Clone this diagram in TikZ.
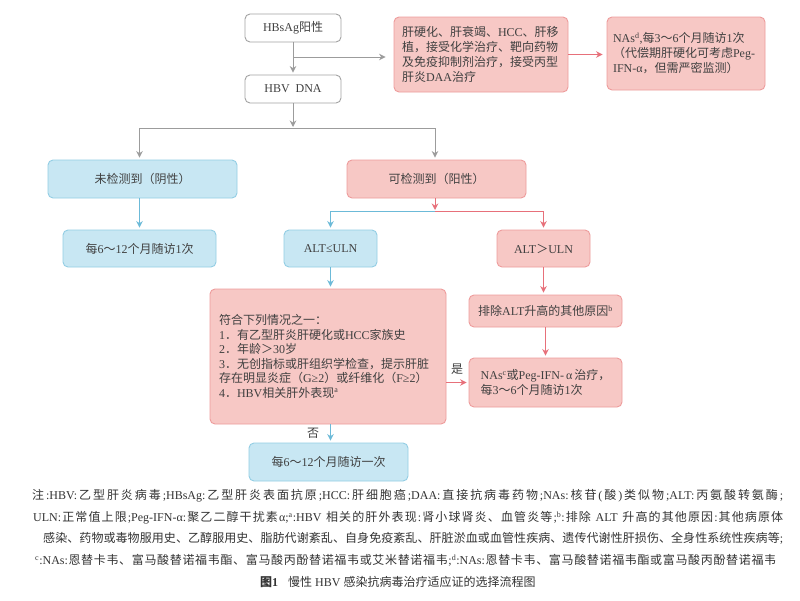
\documentclass[tikz,border=0pt]{standalone}
\usepackage{fontspec}
\setmainfont{Liberation Serif}
\newfontfamily\cjkf{Noto Sans CJK SC}
\newfontfamily\latf{Liberation Serif}
\usetikzlibrary{arrows.meta}
\XeTeXinterchartokenstate=1
\newXeTeXintercharclass\mycjk
\newcount\clsc
\def\setcls#1#2{\clsc=#1\relax\loop\XeTeXcharclass\clsc=\mycjk\relax\ifnum\clsc<#2\relax\advance\clsc by 1\relax\repeat}
\setcls{"3000}{"303F}
\setcls{"4E00}{"9FFF}
\setcls{"FF00}{"FFEF}
\let\cjkglue\relax
\XeTeXinterchartoks 0 \mycjk = {\cjkglue\cjkf}
\XeTeXinterchartoks 4095 \mycjk = {\cjkf}
\XeTeXinterchartoks \mycjk 0 = {\latf\cjkglue}
\XeTeXinterchartoks \mycjk 4095 = {\latf}
\XeTeXinterchartoks \mycjk \mycjk = {\cjkglue}
\def\zhbreak{\def\cjkglue{\hskip 0pt plus 1pt\relax}}
\definecolor{txt}{HTML}{404040}
\definecolor{notec}{HTML}{333333}
\definecolor{gline}{HTML}{A3A3A3}
\definecolor{garrc}{HTML}{9C9C9C}
\definecolor{bfill}{HTML}{C8E7F3}
\definecolor{bline}{HTML}{93CEE4}
\definecolor{barrc}{HTML}{6CBAD8}
\definecolor{rfill}{HTML}{F7C8C5}
\definecolor{rline}{HTML}{EE9C9C}
\definecolor{rarrc}{HTML}{E7707A}
\begin{document}
\begin{tikzpicture}[x=1pt,y=-1pt,
 box/.style={rounded corners=5pt,line width=0.9pt,inner sep=0pt,text=txt,font=\fontsize{12}{15}\selectfont},
 gbox/.style={box,draw=gline,fill=white},
 bbox/.style={box,draw=bline,fill=bfill},
 rbox/.style={box,draw=rline,fill=rfill},
 arr/.style={line width=1pt,-{Stealth[length=6.5pt,width=6.5pt]},shorten >=2pt},
 garr/.style={arr,draw=garrc},
 barr/.style={arr,draw=barrc},
 rarr/.style={arr,draw=rarrc},
 note/.style={anchor=base west,inner sep=0pt,text=notec,font=\fontsize{12}{14}\selectfont},
 lbl/.style={text=txt,font=\fontsize{12}{14}\selectfont,inner sep=0pt}]
\useasboundingbox[fill=white] (0,0) rectangle (800,600);

\node[gbox,minimum width=96pt,minimum height=28pt] (hbs) at (293,28) {HBsAg阳性};
\node[gbox,minimum width=96pt,minimum height=28pt] (dna) at (293,89) {HBV\hspace{6pt}DNA};
\node[rbox,minimum width=174pt,minimum height=75pt,text width=158pt,align=left,inner xsep=8pt] (r1) at (481,54.5) {肝硬化、肝衰竭、HCC、肝移\\植，接受化学治疗、靶向药物\\及免疫抑制剂治疗，接受丙型\\肝炎DAA治疗};
\node[rbox,minimum width=158pt,minimum height=73pt,text width=146pt,align=left,inner xsep=6pt] (r2) at (686,53.5) {NAs\textsuperscript{d},每3～6个月随访1次\\（代偿期肝硬化可考虑Peg-\\IFN-α，但需严密监测）};
\node[bbox,minimum width=189pt,minimum height=38pt] (neg) at (142.5,179) {未检测到（阴性）};
\node[rbox,minimum width=179pt,minimum height=38pt] (pos) at (436.5,179) {可检测到（阳性）};
\node[bbox,minimum width=153pt,minimum height=37pt] (f1) at (139.5,248.5) {每6～12个月随访1次};
\node[bbox,minimum width=93pt,minimum height=37pt] (altle) at (330.5,248.5) {ALT≤ULN};
\node[rbox,minimum width=93pt,minimum height=37pt] (altgt) at (543.5,248.5) {ALT＞ULN};
\node[rbox,minimum width=236pt,minimum height=135pt,text width=218pt,align=left,inner xsep=9pt,font=\fontsize{12}{14.5}\selectfont] (big) at (328,356.5) {符合下列情况之一：\\1．有乙型肝炎肝硬化或HCC家族史\\2．年龄＞30岁\\3．无创指标或肝组织学检查，提示肝脏\\存在明显炎症（G≥2）或纤维化（F≥2）\\4．HBV相关肝外表现\textsuperscript{a}};
\node[bbox,minimum width=159pt,minimum height=38pt] (f2) at (328.5,462) {每6～12个月随访一次};
\node[rbox,minimum width=153pt,minimum height=32pt] (excl) at (545.5,311) {排除ALT升高的其他原因\textsuperscript{b}};
\node[rbox,minimum width=153pt,minimum height=49pt,align=left] (nas) at (545.5,382.5) {NAs\textsuperscript{c}或Peg-IFN-\,α\,治疗，\\每3～6个月随访1次};

\coordinate (b1) at (293,57);
\coordinate (j1) at (293,128);
\coordinate (j2) at (435,211);

\draw[garr] (hbs) -- (dna);
\draw[garr,shorten >=8pt] (b1) -- (b1 -| r1.west);
\draw[rarr,shorten >=4pt] (r1.east) -- (r1.east -| r2.west);
\draw[garr,shorten >=1pt] (dna) -- (j1);
\draw[garr] (j1) -| (neg.north -| f1.north);
\draw[garr] (j1) -| (pos.north -| j2);
\draw[barr] (neg.south -| f1.north) -- (f1.north);
\draw[rarr,shorten >=1pt] (pos.south -| j2) -- (j2);
\draw[barr] (j2) -| (altle.north);
\draw[rarr] (j2) -| (altgt.north);
\draw[barr] (altle.south) -- (altle.south |- big.north);
\draw[barr] (altle.south |- big.south) -- (altle.south |- f2.north);
\draw[rarr] (big.east |- nas.west) -- (nas.west);
\draw[rarr] (altgt.south) -- (altgt.south |- excl.north);
\draw[rarr] (excl.south) -- (nas.north);
\node[lbl] (yes) at (457,369) {是};
\node[lbl] (no) at (313,433) {否};

\node[note] (n1) at (32,499.5) {\zhbreak\hbox to 751pt{注:HBV:乙型肝炎病毒;HBsAg:乙型肝炎表面抗原;HCC:肝细胞癌;DAA:直接抗病毒药物;NAs:核苷(酸)类似物;ALT:丙氨酸转氨酶;}};
\node[note] (n2) at (33,521.5) {\zhbreak\hbox to 750pt{ULN:正常值上限;Peg-IFN-α:聚乙二醇干扰素α;\textsuperscript{a}:HBV 相关的肝外表现:肾小球肾炎、血管炎等;\textsuperscript{b}:排除 ALT 升高的其他原因:其他病原体}};
\node[note] (n3) at (43,542.5) {\zhbreak\hbox to 740pt{感染、药物或毒物服用史、乙醇服用史、脂肪代谢紊乱、自身免疫紊乱、肝脏淤血或血管性疾病、遗传代谢性肝损伤、全身性系统性疾病等;}};
\node[note] (n4) at (35,564.5) {\zhbreak\hbox to 741pt{\textsuperscript{c}:NAs:恩替卡韦、富马酸替诺福韦酯、富马酸丙酚替诺福韦或艾米替诺福韦;\textsuperscript{d}:NAs:恩替卡韦、富马酸替诺福韦酯或富马酸丙酚替诺福韦}};
\node[note] (cap) at (260,586.5) {\textbf{图1}\hspace{10pt}慢性 HBV 感染抗病毒治疗适应证的选择流程图};
\end{tikzpicture}
\end{document}
